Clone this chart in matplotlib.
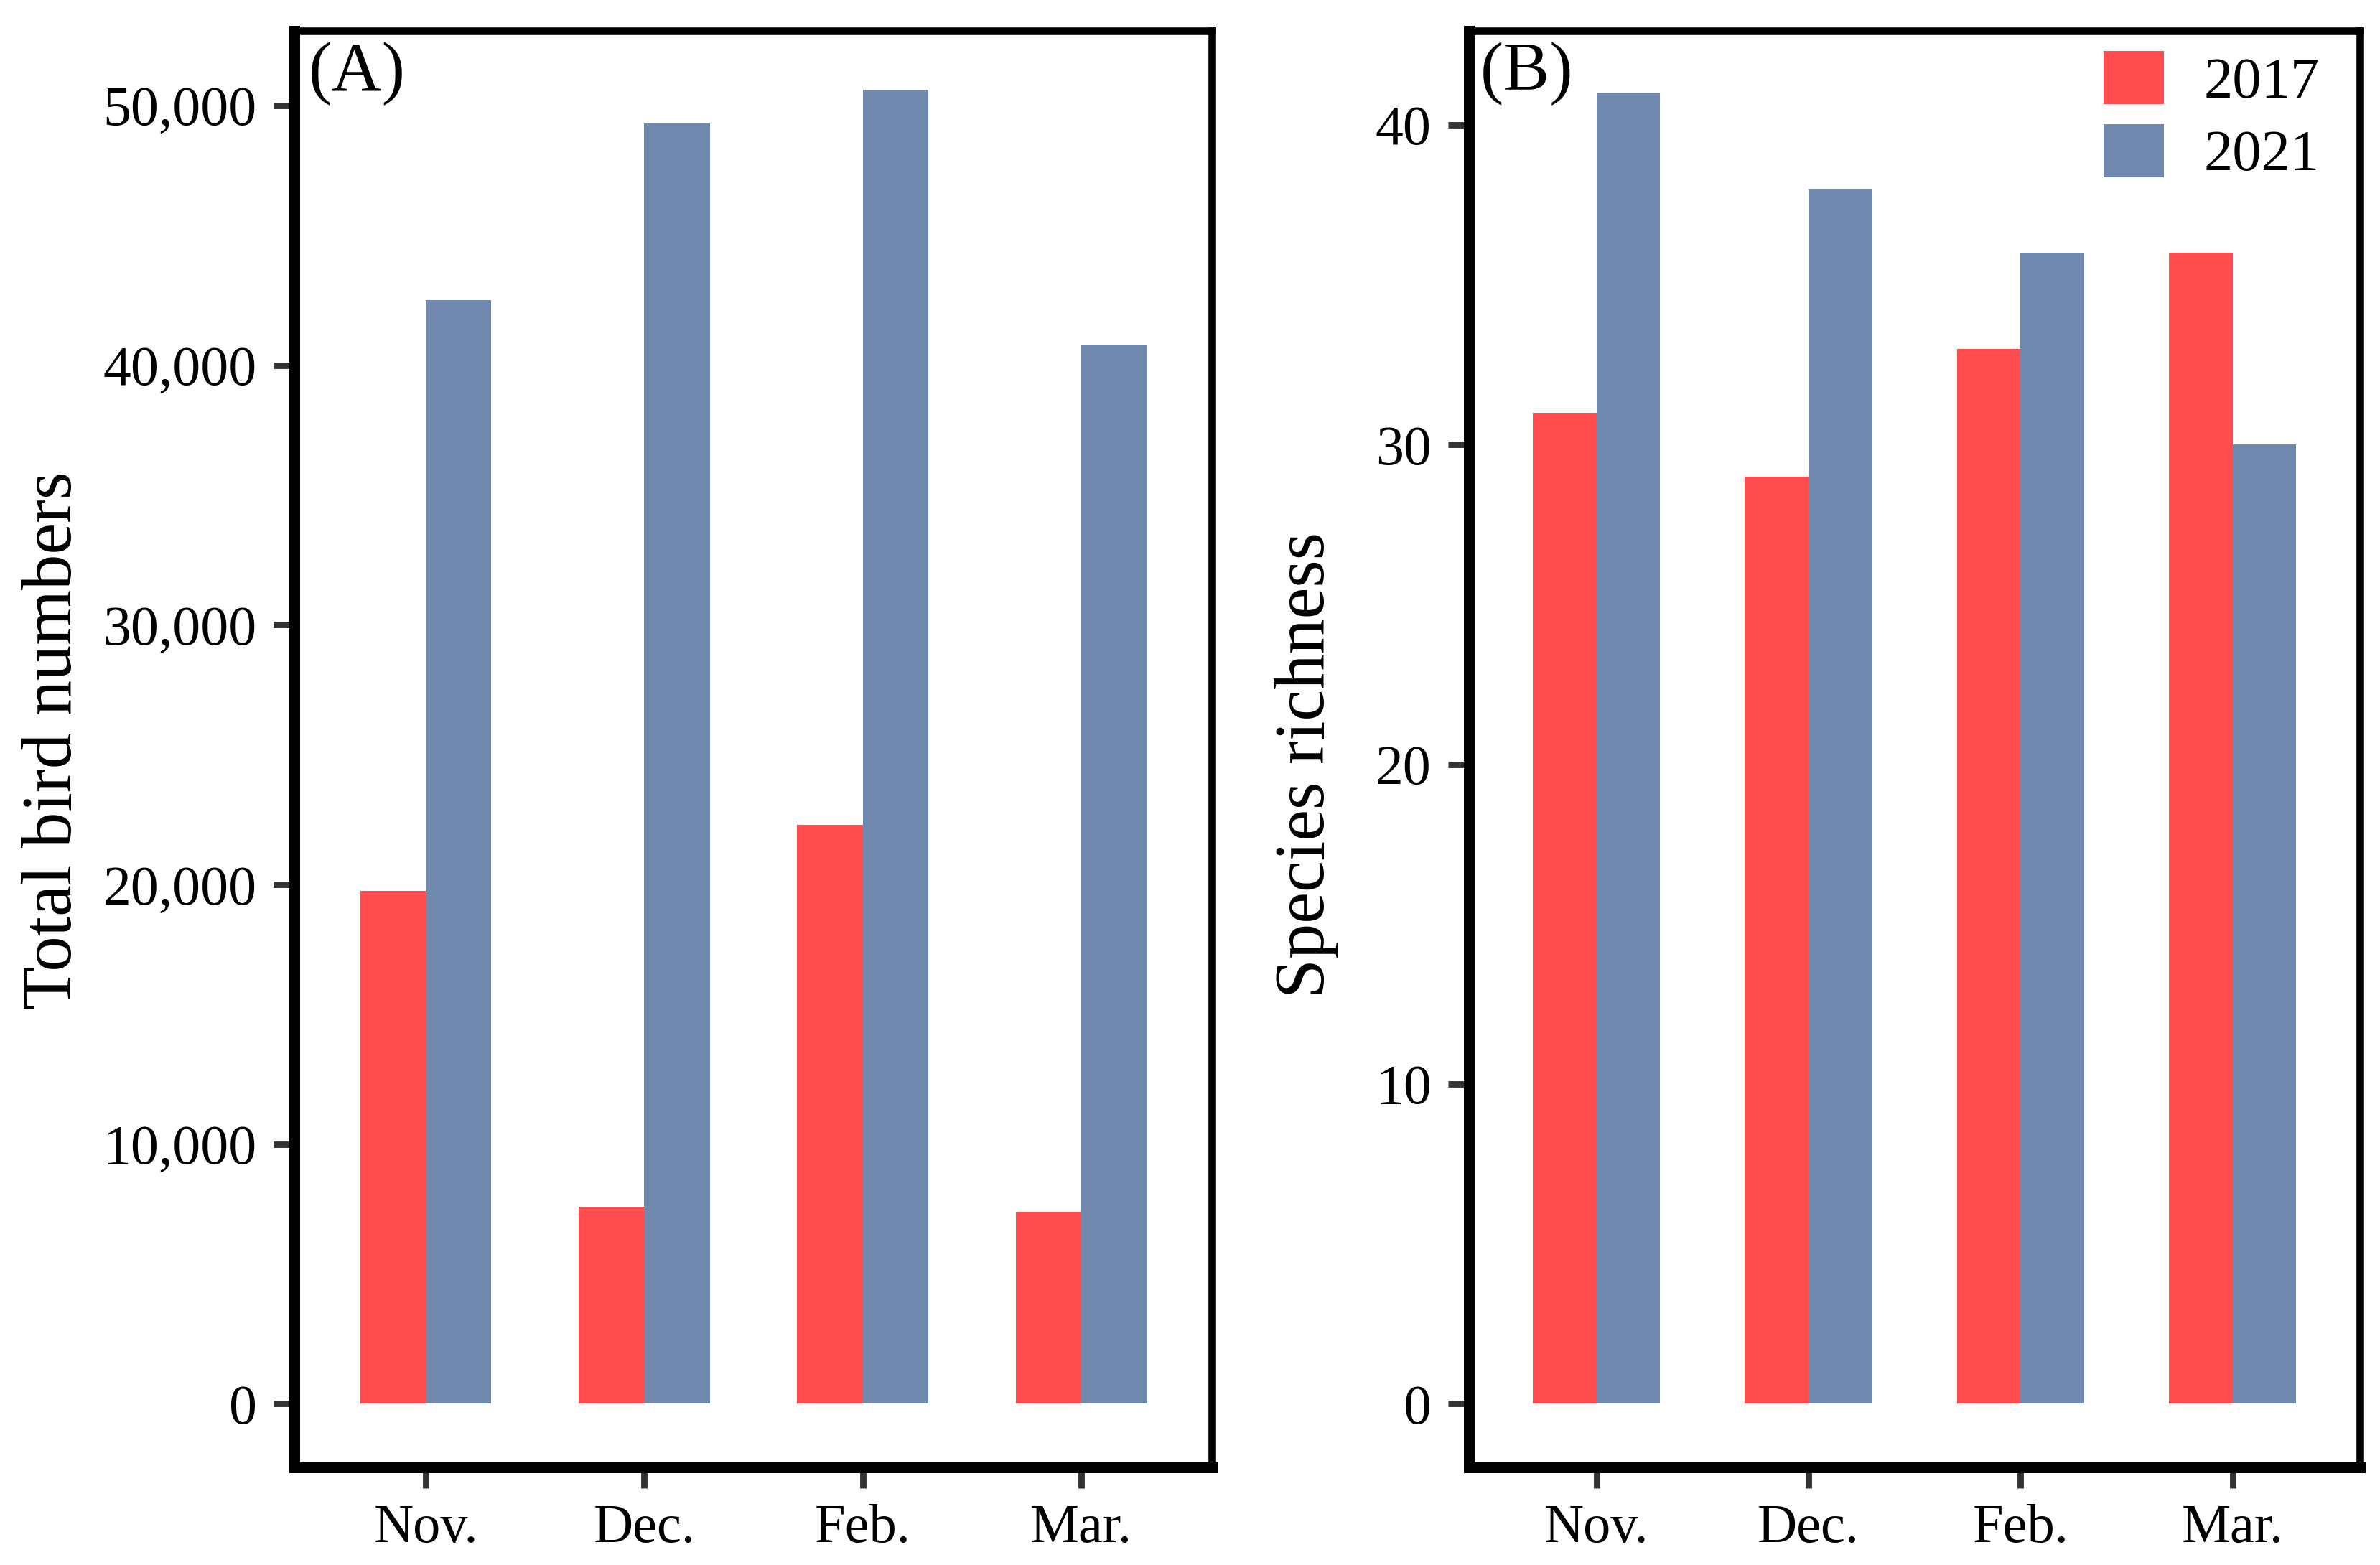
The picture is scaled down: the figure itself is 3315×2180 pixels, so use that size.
import matplotlib
matplotlib.use("Agg")
import matplotlib.pyplot as plt
from matplotlib.patches import Patch
from matplotlib.ticker import FuncFormatter
import numpy as np

months = ["Nov.", "Dec.", "Feb.", "Mar."]
years = ["2017", "2021"]
birds_2017 = [19750, 7600, 22300, 7400]
birds_2021 = [42500, 49300, 50600, 40800]
rich_2017 = [31, 29, 33, 36]
rich_2021 = [41, 38, 36, 30]
ticks_a = [0, 10000, 20000, 30000, 40000, 50000]
ticks_b = [0, 10, 20, 30, 40]

RED = "#FF4D4F"
BLUE = "#7089AF"
plt.rcParams["font.family"] = ["Liberation Serif", "DejaVu Serif"]

W, H = 3316, 2180
fig = plt.figure(figsize=(W / 200, H / 200), dpi=200)

def px_axes(l, r, t, b):
    return fig.add_axes([l / W, 1 - b / H, (r - l) / W, (b - t) / H])

axA = px_axes(410.5, 1688.5, 43, 2043.5)
axB = px_axes(2046.5, 3287, 43, 2043.5)

x = np.arange(len(months))
bw = 0.3

def style(ax, ylim, ticks):
    ax.set_xlim(-0.6, len(months) - 1 + 0.6)
    ax.set_ylim(*ylim)
    ax.set_xticks(x)
    ax.set_xticklabels(months)
    ax.set_yticks(ticks)
    for k, s in ax.spines.items():
        s.set_linewidth(5.4 if k in ("left", "bottom") else 3.8)
        s.set_color("black")
    ax.tick_params(axis="both", direction="out", length=10.5, width=3.2, color="#333333",
                   labelsize=28, labelcolor="black")
    ax.tick_params(axis="x", pad=8, labelsize=27.5)
    ax.tick_params(axis="y", pad=8.5)

axA.bar(x - bw / 2, birds_2017, width=bw, color=RED, label=years[0])
axA.bar(x + bw / 2, birds_2021, width=bw, color=BLUE, label=years[1])
style(axA, (-2434, 52876), ticks_a)
axA.yaxis.set_major_formatter(FuncFormatter(lambda v, p: f"{int(v):,}"))
axA.set_ylabel("Total bird numbers", fontsize=35.5)
axA.yaxis.set_label_coords(-0.227, 0.506)
axA.text(0.015, 0.970, "(A)", transform=axA.transAxes, fontsize=35, ha="left", va="center")

axB.bar(x - bw / 2, rich_2017, width=bw, color=RED, label=years[0])
axB.bar(x + bw / 2, rich_2021, width=bw, color=BLUE, label=years[1])
style(axB, (-1.98, 42.94), ticks_b)
axB.set_ylabel("Species richness", fontsize=35.5)
axB.yaxis.set_label_coords(-0.1465, 0.489)
axB.text(0.012, 0.970, "(B)", transform=axB.transAxes, fontsize=35, ha="left", va="center")

handles = [Patch(facecolor=RED, label=years[0]), Patch(facecolor=BLUE, label=years[1])]
axB.legend(handles=handles, loc="upper left", bbox_to_anchor=(0.712, 0.986), frameon=False,
           fontsize=29, handlelength=1.04, handleheight=1.04, handletextpad=0.7,
           labelspacing=0.25, borderpad=0, borderaxespad=0)

fig.savefig("out.png", dpi=200, facecolor="white")
